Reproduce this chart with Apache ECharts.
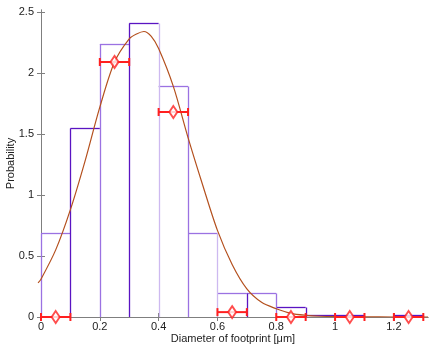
<!DOCTYPE html>
<html><head><meta charset="utf-8">
<script src="https://cdn.jsdelivr.net/npm/echarts@6/dist/echarts.min.js"></script>
<style>html,body{margin:0;padding:0;background:#fff}#c{width:436px;height:349px}</style>
</head><body><div id="c"></div>
<script>
// Histogram bins (start, height) and their drawing group (A = dark, B = medium)
var binStarts  = [0, 0.1, 0.2, 0.3, 0.4, 0.5, 0.6, 0.7, 0.8, 0.9, 1.0, 1.1, 1.2];
var binWidth   = 0.1;
var binHeights = [0.69, 1.55, 2.24, 2.41, 1.89, 0.69, 0.20, 0.20, 0.08, 0.02, 0.02, 0, 0.02];
var binGroups  = ['B','A','B','A','B','B','B','B','A','A','A','A','A'];
// Bin boundaries and their group (A dark, B medium, C light)
var edgeX      = [0, 0.1, 0.2, 0.3, 0.4, 0.5, 0.6, 0.7, 0.8, 0.9, 1.0, 1.1, 1.2, 1.3];
var edgeGroups = ['B','A','B','A','C','B','C','A','B','A','A','A','A','A'];
// Fitted curve
var curveX = [-0.01, 0, 0.05, 0.1, 0.15, 0.2, 0.25, 0.3, 0.325, 0.35, 0.375, 0.4, 0.45, 0.5, 0.55, 0.6, 0.65, 0.7, 0.75, 0.8, 0.85, 0.9, 0.95, 1.0, 1.1, 1.2, 1.316];
var curveY = [0.28, 0.31, 0.55, 0.88, 1.28, 1.72, 2.09, 2.28, 2.32, 2.34, 2.30, 2.20, 1.89, 1.47, 1.08, 0.71, 0.43, 0.23, 0.12, 0.068, 0.03, 0.014, 0.006, 0.003, 0.001, 0, 0];
// Measured points with horizontal error bars
var ptX   = [0.05, 0.25, 0.45, 0.65, 0.85, 1.05, 1.25];
var ptY   = [0, 2.09, 1.68, 0.04, 0, 0, 0];
var ptLo  = [0, 0.2, 0.4, 0.6, 0.8, 1.0, 1.2];
var ptHi  = [0.1, 0.3, 0.5, 0.7, 0.9, 1.1, 1.3];
// Tick labels
var xTicks = [0, 0.2, 0.4, 0.6, 0.8, 1, 1.2];
var yTicks = [0, 0.5, 1, 1.5, 2, 2.5];

var groupColor = {A: '#5a14c2', B: '#9b72e2', C: '#cdb9f0'};
var FONT = 'Liberation Sans, Arial, sans-serif';

var binData = binStarts.map(function (s, i) { return [s, s + binWidth, binHeights[i], binGroups[i]]; });
var edgeData = edgeX.map(function (x, i) {
  var l = i > 0 ? binHeights[i - 1] : 0;
  var r = i < binHeights.length ? binHeights[i] : 0;
  return [x, Math.max(l, r), edgeGroups[i]];
});
var curveData = curveX.map(function (x, i) { return [x, curveY[i]]; });
var errData = ptX.map(function (x, i) { return [x, ptY[i], ptLo[i], ptHi[i]]; });
var ptData = ptX.map(function (x, i) { return [x, ptY[i]]; });

var XMIN = -0.0102, XMAX = 1.316, YMIN = 0, YMAX = 2.516;
var axisLineStyle = {color: '#7f7f7f', width: 1};

var chart = echarts.init(document.getElementById('c'), null, {renderer: 'canvas'});
chart.setOption({
  animation: false,
  backgroundColor: '#fff',
  grid: {left: 38, right: 8, top: 10, bottom: 32, containLabel: false, outerBoundsMode: 'none'},
  xAxis: [{
    type: 'value', min: XMIN, max: XMAX, position: 'bottom',
    name: 'Diameter of footprint [\u03bcm]', nameLocation: 'middle', nameGap: 16, nameMoveOverlap: false,
    nameTextStyle: {fontFamily: FONT, fontSize: 11, color: '#222', verticalAlign: 'top'},
    axisLine: {show: true, lineStyle: axisLineStyle},
    axisTick: {show: true, inside: true, length: 4, lineStyle: axisLineStyle, customValues: xTicks},
    axisLabel: {fontFamily: FONT, fontSize: 11, color: '#222', margin: 4, customValues: xTicks,
      formatter: function (v) { return String(Math.round(v * 10) / 10); }},
    splitLine: {show: false}
  }, {
    type: 'value', min: XMIN, max: XMAX, position: 'top',
    axisLine: {show: true, lineStyle: axisLineStyle},
    axisTick: {show: true, inside: true, length: 4, lineStyle: axisLineStyle, customValues: xTicks},
    axisLabel: {show: false}, splitLine: {show: false}
  }],
  yAxis: [{
    type: 'value', min: YMIN, max: YMAX, position: 'left',
    name: 'Probability', nameLocation: 'middle', nameGap: 22, nameRotate: 90, nameMoveOverlap: false,
    nameTextStyle: {fontFamily: FONT, fontSize: 11, color: '#222'},
    axisLine: {show: true, lineStyle: axisLineStyle},
    axisTick: {show: true, inside: true, length: 4, lineStyle: axisLineStyle, customValues: yTicks},
    axisLabel: {fontFamily: FONT, fontSize: 11, color: '#222', margin: 4, customValues: yTicks,
      formatter: function (v) { return String(Math.round(v * 10) / 10); }},
    splitLine: {show: false}
  }, {
    type: 'value', min: YMIN, max: YMAX, position: 'right',
    axisLine: {show: true, lineStyle: axisLineStyle},
    axisTick: {show: true, inside: true, length: 4, lineStyle: axisLineStyle, customValues: yTicks},
    axisLabel: {show: false}, splitLine: {show: false}
  }],
  series: [{
    type: 'custom', name: 'bins', data: binData, z: 2, clip: false,
    renderItem: function (params, api) {
      var p0 = api.coord([api.value(0), api.value(2)]);
      var p1 = api.coord([api.value(1), api.value(2)]);
      if (api.value(2) <= 0) return null;
      var g = binData[params.dataIndex][3];
      return {type: 'line', shape: {x1: p0[0], y1: Math.round(p0[1]) + 0.5, x2: p1[0], y2: Math.round(p1[1]) + 0.5},
        style: {stroke: groupColor[g], lineWidth: 1.3}};
    }
  }, {
    type: 'custom', name: 'edges', data: edgeData, z: 2, clip: false,
    renderItem: function (params, api) {
      if (api.value(1) <= 0) return null;
      var top = api.coord([api.value(0), api.value(1)]);
      var bot = api.coord([api.value(0), 0]);
      var g = edgeData[params.dataIndex][2];
      var x = Math.round(top[0]) + 0.5;
      return {type: 'line', shape: {x1: x, y1: bot[1], x2: x, y2: Math.round(top[1]) + 0.5},
        style: {stroke: groupColor[g], lineWidth: 1.3}};
    }
  }, {
    type: 'line', name: 'fit', data: curveData, smooth: 0.3, showSymbol: false, z: 3,
    lineStyle: {color: '#b4501e', width: 1.2}
  }, {
    type: 'custom', name: 'errbars', data: errData, z: 4, clip: false,
    renderItem: function (params, api) {
      var l = api.coord([api.value(2), api.value(1)]);
      var r = api.coord([api.value(3), api.value(1)]);
      var st = {stroke: '#ff2020', lineWidth: 2};
      return {type: 'group', children: [
        {type: 'line', shape: {x1: l[0], y1: l[1], x2: r[0], y2: r[1]}, style: st},
        {type: 'line', shape: {x1: l[0], y1: l[1] - 4, x2: l[0], y2: l[1] + 4}, style: st},
        {type: 'line', shape: {x1: r[0], y1: r[1] - 4, x2: r[0], y2: r[1] + 4}, style: st}
      ]};
    }
  }, {
    type: 'scatter', name: 'points', data: ptData, z: 5, clip: false,
    symbol: 'diamond', symbolSize: [8, 12],
    itemStyle: {color: '#fff', borderColor: '#ff2020', borderWidth: 2}
  }]
});
</script>
</body></html>
